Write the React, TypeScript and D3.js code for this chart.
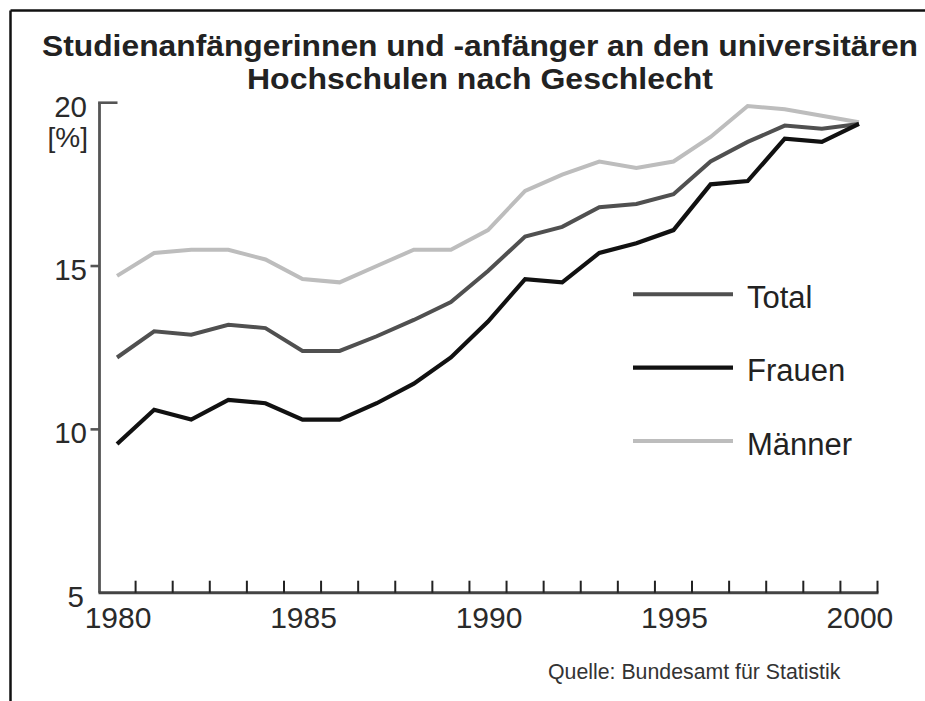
import React, { useEffect } from "react";
import * as d3 from "d3";

const years = [1980, 1981, 1982, 1983, 1984, 1985, 1986, 1987, 1988, 1989, 1990, 1991, 1992, 1993, 1994, 1995, 1996, 1997, 1998, 1999, 2000];
const total = [12.2, 13.0, 12.9, 13.2, 13.1, 12.4, 12.4, 12.85, 13.35, 13.9, 14.85, 15.9, 16.2, 16.8, 16.9, 17.2, 18.2, 18.8, 19.3, 19.2, 19.35];
const frauen = [9.55, 10.6, 10.3, 10.9, 10.8, 10.3, 10.3, 10.8, 11.4, 12.2, 13.3, 14.6, 14.5, 15.4, 15.7, 16.1, 17.5, 17.6, 18.9, 18.8, 19.35];
const maenner = [14.7, 15.4, 15.5, 15.5, 15.2, 14.6, 14.5, 15.0, 15.5, 15.5, 16.1, 17.3, 17.8, 18.2, 18.0, 18.2, 18.95, 19.9, 19.8, 19.6, 19.4];
const yTickValues = [5, 10, 15, 20];
const xLabelYears = [1980, 1985, 1990, 1995, 2000];
const titleLines = ["Studienanfängerinnen und -anfänger an den universitären", "Hochschulen nach Geschlecht"];
const seriesNames = ["Total", "Frauen", "Männer"];
const sourceText = "Quelle: Bundesamt für Statistik";

const W = 925;
const H = 701;
const FONT = "'Liberation Sans', Arial, Helvetica, sans-serif";
const titleWidths = [876, 466];

export default function App() {
  useEffect(() => {
    document.body.style.margin = "0";
  }, []);

  const x = d3.scaleLinear().domain([1979.5, 2000.5]).range([98.5, 877.5]);
  const y = d3.scaleLinear().domain([5, 20]).range([592.7, 102.7]);

  const line = d3
    .line<number>()
    .x((_, i) => x(years[i]))
    .y((v) => y(v));

  const series = [
    { name: seriesNames[2], values: maenner, color: "#bdbdbd", width: 4 },
    { name: seriesNames[0], values: total, color: "#505050", width: 4 },
    { name: seriesNames[1], values: frauen, color: "#111111", width: 4.2 },
  ];
  const legend = [
    { name: seriesNames[0], color: "#505050", width: 4 },
    { name: seriesNames[1], color: "#111111", width: 4.2 },
    { name: seriesNames[2], color: "#bdbdbd", width: 4 },
  ];

  const boundaries = d3.range(1980.5, 2001, 1);
  const axisX = x(1979.5) + 1;

  return (
    <svg width={W} height={H} style={{ position: "absolute", left: 0, top: 0, background: "#fff" }} fontFamily={FONT}>
      {/* frame */}
      <line x1={10.5} y1={10.5} x2={W} y2={10.5} stroke="#111" strokeWidth={2.5} />
      <line x1={10.5} y1={10.5} x2={10.5} y2={H} stroke="#111" strokeWidth={2.5} />

      {/* title */}
      {titleLines.map((t, i) => (
        <text
          key={i}
          x={480}
          y={55.5 + i * 33}
          textAnchor="middle"
          fontWeight="bold"
          fontSize={29.5}
          fill="#222"
          textLength={titleWidths[i]}
          lengthAdjust="spacingAndGlyphs"
        >
          {t}
        </text>
      ))}

      {/* y axis */}
      <line x1={axisX} y1={y(20)} x2={axisX} y2={y(5)} stroke="#555" strokeWidth={2.8} />
      {yTickValues.map((v) => {
        if (v === 5) return null;
        const isTop = v === 20;
        return (
          <line
            key={"yt" + v}
            x1={isTop ? axisX - 1.4 : axisX - 9}
            x2={isTop ? axisX + 18 : axisX}
            y1={y(v)}
            y2={y(v)}
            stroke="#555"
            strokeWidth={2.6}
          />
        );
      })}
      {yTickValues.map((v) => (
        <text key={"yl" + v} x={v === 5 ? 84 : 87} y={y(v) + 14} textAnchor="end" fontSize={29.5} fill="#2a2a2a">
          {v}
        </text>
      ))}
      <text x={88} y={147} textAnchor="end" fontSize={28} fill="#2a2a2a">
        [%]
      </text>

      {/* x axis */}
      <line x1={x(1979.5)} y1={y(5)} x2={x(2000.5) + 1} y2={y(5)} stroke="#444" strokeWidth={3} />
      {boundaries.map((b) => (
        <line key={"xt" + b} x1={x(b)} x2={x(b)} y1={y(5)} y2={y(5) - 12} stroke="#222" strokeWidth={2} />
      ))}
      {xLabelYears.map((yr) => (
        <text key={"xl" + yr} x={x(yr) + 1} y={y(5) + 35.6} textAnchor="middle" fontSize={30} fill="#2a2a2a">
          {yr}
        </text>
      ))}

      {/* series */}
      {series.map((s) => (
        <path
          key={s.name}
          d={line(s.values) || ""}
          fill="none"
          stroke={s.color}
          strokeWidth={s.width}
          strokeLinejoin="miter"
          strokeMiterlimit={3}
        />
      ))}

      {/* legend */}
      {legend.map((l, i) => (
        <g key={"lg" + l.name} transform={`translate(0, ${294.3 + i * 73.4})`}>
          <line x1={633} x2={733} y1={0} y2={0} stroke={l.color} strokeWidth={l.width} />
          <text x={747} y={13.5} fontSize={31} fill="#222">
            {l.name}
          </text>
        </g>
      ))}

      {/* source */}
      <text x={548} y={679} fontSize={21.3} fill="#333">
        {sourceText}
      </text>
    </svg>
  );
}
